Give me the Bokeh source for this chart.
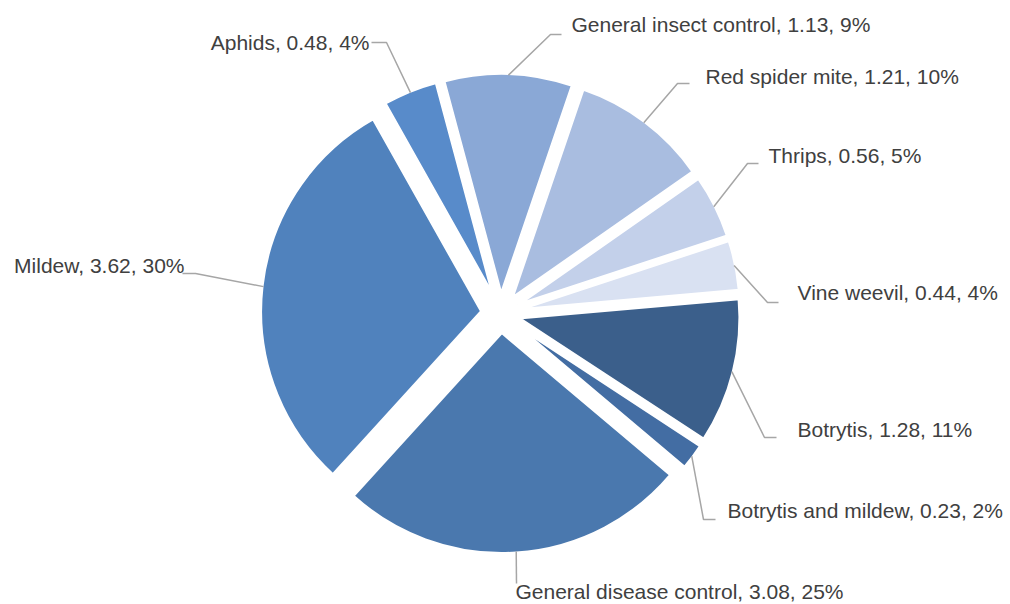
import math

from bokeh.core.properties import value
from bokeh.embed import file_html
from bokeh.models import ColumnDataSource, Range1d
from bokeh.plotting import figure
from bokeh.resources import INLINE

# --- data -------------------------------------------------------------------
categories = [
    "General insect control",
    "Red spider mite",
    "Thrips",
    "Vine weevil",
    "Botrytis",
    "Botrytis and mildew",
    "General disease control",
    "Mildew",
    "Aphids",
]
amounts = [1.13, 1.21, 0.56, 0.44, 1.28, 0.23, 3.08, 3.62, 0.48]
percent_labels = ["9%", "10%", "5%", "4%", "11%", "2%", "25%", "30%", "4%"]

# --- style ------------------------------------------------------------------
colors = [
    "#8AA8D6",
    "#A9BDE0",
    "#C3D0EA",
    "#D9E1F2",
    "#3B5F8B",
    "#436DA3",
    "#4A78AE",
    "#5082BD",
    "#588BCA",
]

W, H = 1010, 604
CX, CY = 500.0, 313.0        # pie centre, screen pixels (y down)
RADIUS = 221.0
EXPLODE = 19.0               # every slice pulled out along its bisector
FIRST_ANGLE = -15.0          # degrees, clockwise from 12 o'clock

# label layout in screen pixels: leader elbow, leader end, text anchor, alignment
label_layout = [
    ((550, 34), (561, 34), (571, 24), "left"),
    ((677, 83), (689, 83), (705, 76), "left"),
    ((747, 163), (758, 163), (768, 155), "left"),
    ((767, 302), (778, 302), (797, 292), "left"),
    ((764, 437), (776, 437), (797, 429), "left"),
    ((703, 519), (715, 519), (727, 510), "left"),
    ((516, 583), (516, 583), (515, 591), "left"),
    ((195, 273), (182, 273), (184, 265), "right"),
    ((386, 42), (371, 42), (369, 42), "right"),
]


def flip(py):
    return H - py


total = sum(amounts)
xs, ys, starts, ends = [], [], [], []
lead_xs, lead_ys = [], []
text_x, text_y, text_align, texts = [], [], [], []

theta = FIRST_ANGLE
for name, amt, pct, layout in zip(categories, amounts, percent_labels, label_layout):
    sweep = amt / total * 360.0
    a0, a1 = theta, theta + sweep
    mid = math.radians((a0 + a1) / 2.0)
    theta = a1

    # exploded centre (screen coords)
    ex = CX + EXPLODE * math.sin(mid)
    ey = CY - EXPLODE * math.cos(mid)
    xs.append(ex)
    ys.append(flip(ey))
    # clockwise-from-top -> counter-clockwise-from-east
    starts.append(math.radians(90.0 - a1))
    ends.append(math.radians(90.0 - a0))

    # leader line from the middle of the slice's arc
    ax = ex + (RADIUS - 1.5) * math.sin(mid)
    ay = ey - (RADIUS - 1.5) * math.cos(mid)
    (bx, by), (cx, cy), (tx, ty), align = layout
    lead_xs.append([ax, bx, cx])
    lead_ys.append([flip(ay), flip(by), flip(cy)])

    text_x.append(tx)
    text_y.append(flip(ty))
    text_align.append(align)
    texts.append(f"{name}, {amt:.2f}, {pct}")

slices = ColumnDataSource(dict(x=xs, y=ys, start=starts, end=ends, color=colors))
labels = ColumnDataSource(dict(x=text_x, y=text_y, text=texts, align=text_align))

p = figure(
    width=W,
    height=H,
    x_range=Range1d(0, W),
    y_range=Range1d(0, H),
    x_axis_type=None,
    y_axis_type=None,
    min_border=0,
    toolbar_location=None,
    output_backend="svg",
)
p.outline_line_color = None
p.background_fill_color = "white"
p.border_fill_color = "white"
p.grid.visible = False

p.wedge(
    x="x",
    y="y",
    radius=RADIUS,
    start_angle="start",
    end_angle="end",
    fill_color="color",
    line_color="white",
    line_width=3,
    source=slices,
)

p.multi_line(xs=lead_xs, ys=lead_ys, line_color="#A6A6A6", line_width=1.5)

p.text(
    x="x",
    y="y",
    text="text",
    text_align="align",
    text_baseline="middle",
    text_font=value("Liberation Sans"),
    text_font_size="21px",
    text_color="#404040",
    source=labels,
)

open("out.html", "w").write(file_html(p, INLINE))
